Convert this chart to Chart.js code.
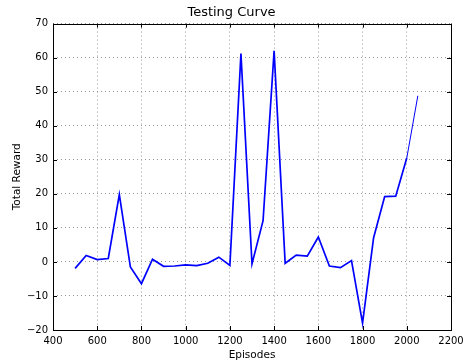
<!DOCTYPE html>
<html>
<head>
<meta charset="utf-8">
<script src="https://cdn.jsdelivr.net/npm/chart.js@4"></script>
<style>
  body { margin: 0; background: #fff; }
</style>
</head>
<body>
<canvas id="chart" width="463" height="362"></canvas>
<script>
// episodes and testing reward
const episodes = [500, 550, 600, 650, 700, 750, 800, 850, 900, 950,
                  1000, 1050, 1100, 1150, 1200, 1250, 1300, 1350, 1400, 1450,
                  1500, 1550, 1600, 1650, 1700, 1750, 1800, 1850, 1900, 1950,
                  2000, 2050];
const rewards = [-1.9, 1.9, 0.7, 1.0, 19.8, -1.5, -6.4, 0.8, -1.3, -1.2,
                 -0.9, -1.1, -0.4, 1.4, -1.0, 61.2, -0.6, 12.1, 62.0, -0.4,
                 2.0, 1.7, 7.3, -1.2, -1.7, 0.4, -18.0, 7.1, 19.2, 19.3,
                 30.5, 48.8];
const xTicks = [400, 600, 800, 1000, 1200, 1400, 1600, 1800, 2000, 2200];
const yTicks = [-20, -10, 0, 10, 20, 30, 40, 50, 60, 70];

const thinFrom = episodes.indexOf(2000); // last segment drawn thinner

const font = { family: 'DejaVu Sans', size: 10 };

// matplotlib style frame with inward ticks on all sides
const framePlugin = {
  id: 'frame',
  afterDraw(chart) {
    const { ctx, chartArea: a, scales } = chart;
    ctx.save();
    ctx.strokeStyle = '#000';
    ctx.lineWidth = 1;
    ctx.strokeRect(Math.round(a.left) + 0.5, Math.round(a.top) + 0.5,
                   Math.round(a.right - a.left), Math.round(a.bottom - a.top));
    ctx.beginPath();
    xTicks.forEach(v => {
      const x = Math.round(scales.x.getPixelForValue(v)) + 0.5;
      ctx.moveTo(x, a.bottom); ctx.lineTo(x, a.bottom - 4);
      ctx.moveTo(x, a.top); ctx.lineTo(x, a.top + 4);
    });
    yTicks.forEach(v => {
      const y = Math.round(scales.y.getPixelForValue(v)) + 0.5;
      ctx.moveTo(a.left, y); ctx.lineTo(a.left + 4, y);
      ctx.moveTo(a.right, y); ctx.lineTo(a.right - 4, y);
    });
    ctx.stroke();
    ctx.restore();
  }
};

new Chart(document.getElementById('chart'), {
  type: 'line',
  data: {
    datasets: [{
      data: episodes.map((e, i) => ({ x: e, y: rewards[i] })),
      borderColor: '#0000ff',
      borderWidth: 1.7,
      pointRadius: 0,
      tension: 0,
      segment: {
        borderWidth: c => (c.p0DataIndex >= thinFrom ? 1 : 1.7)
      }
    }]
  },
  plugins: [framePlugin],
  options: {
    responsive: false,
    animation: false,
    layout: { padding: { left: 0, right: 0, top: 0, bottom: 0 } },
    plugins: {
      legend: { display: false },
      tooltip: { enabled: false },
      title: {
        display: true,
        text: 'Testing Curve',
        color: '#000',
        font: { family: 'DejaVu Sans', size: 13, weight: 'normal' },
        padding: { top: 5, bottom: 3 }
      }
    },
    scales: {
      x: {
        type: 'linear',
        min: 400,
        max: 2200,
        afterBuildTicks: s => { s.ticks = xTicks.map(v => ({ value: v })); },
        afterFit: s => { s.height = 32; s.paddingRight = 12; s.paddingLeft = 0; },
        ticks: { color: '#000', font, padding: 5, maxRotation: 0, callback: v => String(v) },
        grid: { color: '#999', drawTicks: false },
        border: { display: false, dash: [1, 3] },
        title: {
          display: true, text: 'Episodes', color: '#000',
          font: { family: 'DejaVu Sans', size: 10.5 },
          padding: { top: 0, bottom: 0 }
        }
      },
      y: {
        min: -20,
        max: 70,
        afterBuildTicks: s => { s.ticks = yTicks.map(v => ({ value: v })); },
        afterFit: s => { s.width = 53; },
        ticks: {
          color: '#000', font, padding: 5,
          callback: v => String(v).replace('-', '\u2212')
        },
        grid: { color: '#999', drawTicks: false },
        border: { display: false, dash: [1, 3] },
        title: {
          display: true, text: 'Total Reward', color: '#000',
          font: { family: 'DejaVu Sans', size: 10.5 },
          padding: { top: 10.5, bottom: 0 }
        }
      }
    }
  }
});
</script>
</body>
</html>
